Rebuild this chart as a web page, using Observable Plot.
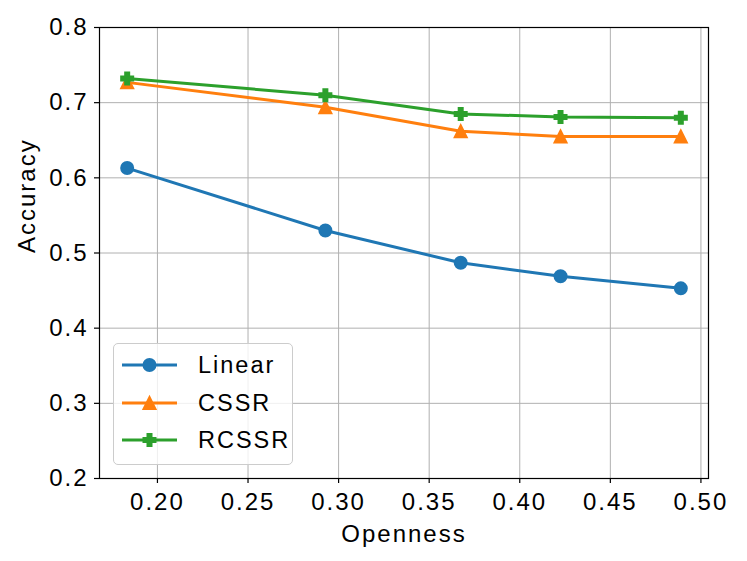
<!DOCTYPE html>
<html>
<head>
<meta charset="utf-8">
<script src="https://cdn.jsdelivr.net/npm/d3@7"></script>
<script src="https://cdn.jsdelivr.net/npm/@observablehq/plot@0.6"></script>
<style>
  html, body { margin: 0; padding: 0; background: #fff; }
  #wrap { position: relative; width: 747px; height: 561px; }
  #legend {
    position: absolute; left: 113px; top: 343px; width: 178px; height: 120px;
    background: rgba(255,255,255,0.8); border: 1px solid #cccccc; border-radius: 5px;
    font-family: "Liberation Sans", Arial, sans-serif; font-size: 23.5px; letter-spacing: 2px; color: #000;
  }
  .row { position: absolute; left: 0; height: 30px; display: flex; align-items: center; }
  .row svg { margin-left: 8px; }
  .row span { margin-left: 20px; line-height: 30px; }
</style>
</head>
<body>
<div id="wrap"><div id="chart"></div><div id="legend"></div></div>
<script>
// ---- data ----
const openness = [0.1833, 0.2927, 0.3674, 0.4225, 0.4889];
const linearAcc = [0.613, 0.530, 0.487, 0.469, 0.453];
const cssrAcc   = [0.727, 0.694, 0.662, 0.655, 0.655];
const rcssrAcc  = [0.732, 0.710, 0.685, 0.681, 0.680];
const seriesNames = ["Linear", "CSSR", "RCSSR"];
const seriesColors = ["#1f77b4", "#ff7f0e", "#2ca02c"];
const xTicks = [0.20, 0.25, 0.30, 0.35, 0.40, 0.45, 0.50];
const yTicks = [0.2, 0.3, 0.4, 0.5, 0.6, 0.7, 0.8];
const xLabel = "Openness";
const yLabel = "Accuracy";

// ---- symbols (matplotlib-like) ----
const triUp = {draw(ctx, size) {
  const h = Math.sqrt(size / Math.PI);
  ctx.moveTo(0, -h); ctx.lineTo(h, h); ctx.lineTo(-h, h); ctx.closePath();
}};
const plusFilled = {draw(ctx, size) {
  const h = Math.sqrt(size / Math.PI), a = h / 3;
  const pts = [[-a,-h],[a,-h],[a,-a],[h,-a],[h,a],[a,a],[a,h],[-a,h],[-a,a],[-h,a],[-h,-a],[-a,-a]];
  ctx.moveTo(pts[0][0], pts[0][1]);
  for (let i = 1; i < pts.length; i++) ctx.lineTo(pts[i][0], pts[i][1]);
  ctx.closePath();
}};
const symbols = ["circle", triUp, plusFilled];
const seriesValues = [linearAcc, cssrAcc, rcssrAcc];

const rows = seriesNames.map((name, i) =>
  openness.map((x, j) => ({series: name, x, y: seriesValues[i][j]})));

const ext = d3.extent(openness);
const pad = (ext[1] - ext[0]) * 0.05;

const font = '"Liberation Sans", Arial, sans-serif';

const marks = [
  Plot.gridX(xTicks, {stroke: "#b0b0b0", strokeOpacity: 1, strokeWidth: 1}),
  Plot.gridY(yTicks, {stroke: "#b0b0b0", strokeOpacity: 1, strokeWidth: 1}),
];
rows.forEach((data, i) => {
  marks.push(Plot.line(data, {x: "x", y: "y", stroke: seriesColors[i], strokeWidth: 3}));
  marks.push(Plot.dot(data, {x: "x", y: "y", symbol: symbols[i], r: 6,
    fill: seriesColors[i], stroke: seriesColors[i], strokeWidth: 2}));
});
marks.push(
  Plot.frame({stroke: "#000", strokeWidth: 1.2}),
  Plot.axisX(xTicks, {tickFormat: d3.format(".2f"), tickSize: 5, tickPadding: 9, label: null, strokeWidth: 1.2}),
  Plot.axisY(yTicks, {tickFormat: d3.format(".1f"), tickSize: 5, tickPadding: 6, label: null, strokeWidth: 1.2}),
  Plot.text([xLabel], {frameAnchor: "bottom", text: d => d, dy: 56, lineAnchor: "middle", fontSize: 24}),
  Plot.text([yLabel], {frameAnchor: "left", text: d => d, rotate: -90, dx: -72, lineAnchor: "middle", fontSize: 24})
);

const chart = Plot.plot({
  width: 747, height: 561,
  marginLeft: 99, marginRight: 39, marginTop: 27, marginBottom: 83,
  x: {domain: [ext[0] - pad, ext[1] + pad]},
  y: {domain: [0.2, 0.8]},
  style: {fontFamily: font, fontSize: "24px", letterSpacing: "2px", color: "#000", background: "#fff"},
  marks
});
document.getElementById("chart").appendChild(chart);

// ---- legend ----
const legend = document.getElementById("legend");
const rowTops = [6, 44, 81];
seriesNames.forEach((name, i) => {
  const row = document.createElement("div");
  row.className = "row";
  row.style.top = rowTops[i] + "px";
  const svg = d3.create("svg").attr("width", 56).attr("height", 30);
  svg.append("line").attr("x1", 0).attr("x2", 55).attr("y1", 15).attr("y2", 15)
    .attr("stroke", seriesColors[i]).attr("stroke-width", 3);
  const sym = symbols[i] === "circle" ? d3.symbolCircle : symbols[i];
  svg.append("path").attr("d", d3.symbol(sym, 36 * Math.PI)())
    .attr("transform", "translate(27.5,15)")
    .attr("fill", seriesColors[i]).attr("stroke", seriesColors[i]).attr("stroke-width", 2);
  row.appendChild(svg.node());
  const span = document.createElement("span");
  span.textContent = name;
  row.appendChild(span);
  legend.appendChild(row);
});
</script>
</body>
</html>
